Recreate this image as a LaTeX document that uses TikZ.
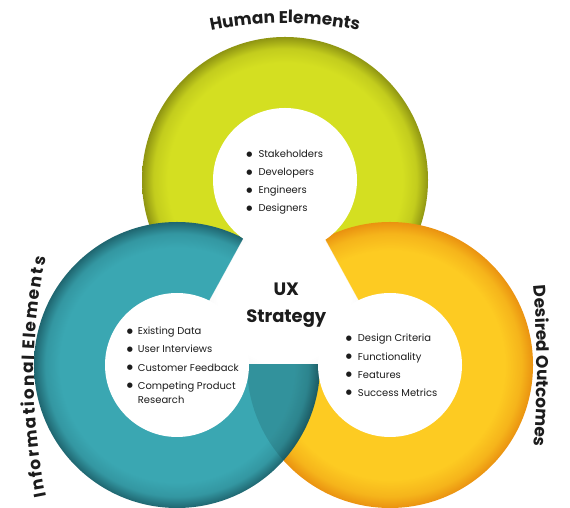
\documentclass[tikz,border=0pt]{standalone}
\usepackage{fontspec}
\setmainfont{Poppins}
\newfontfamily\symfont{DejaVu Sans}
\usetikzlibrary{decorations.text}

\definecolor{gmain}{HTML}{D4DF21}
\definecolor{gdark}{HTML}{8F9512}
\definecolor{tmain}{HTML}{3AA7B2}
\definecolor{tdark}{HTML}{1F6670}
\definecolor{ymain}{HTML}{FDCB22}
\definecolor{ydark}{HTML}{EA9210}
\definecolor{cgray}{HTML}{D4D4D4}
\definecolor{textc}{HTML}{1C1C1C}

\pgfdeclareradialshading{greenring}{\pgfpoint{0bp}{0bp}}{color(0bp)=(gmain); color(20.5bp)=(gmain); color(23bp)=(gmain!75!gdark); color(25bp)=(gdark); color(50bp)=(gdark)}
\pgfdeclareradialshading{tealring}{\pgfpoint{0bp}{0bp}}{color(0bp)=(tmain); color(20.5bp)=(tmain); color(23bp)=(tmain!75!tdark); color(25bp)=(tdark); color(50bp)=(tdark)}
\pgfdeclareradialshading{yellowring}{\pgfpoint{0bp}{0bp}}{color(0bp)=(ymain); color(20bp)=(ymain); color(23bp)=(ymain!60!ydark); color(25bp)=(ydark); color(50bp)=(ydark)}
\pgfdeclareradialshading{centershade}{\pgfpoint{0bp}{0bp}}{color(0bp)=(white); color(12bp)=(white); color(25bp)=(cgray); color(50bp)=(cgray)}

\newcommand\headfont{\fontsize{17}{17}\selectfont\bfseries}
\newcommand\lsp{\kern1.8bp}

\begin{document}
\begin{tikzpicture}[x=1bp,y=1bp,
  item/.style={anchor=base west,inner sep=0pt,text=textc,font=\fontsize{10}{12}\selectfont},
  bul/.style={inner sep=0pt,text=textc,font=\symfont\fontsize{7}{7}\selectfont},
  uxtext/.style={anchor=base,inner sep=0pt,text=textc,font=\fontsize{18}{18}\selectfont\bfseries},
  headtext/.style={decorate,decoration={text along path,text align=center,text color=textc,text={|\headfont|#1}}}
]
\useasboundingbox (0,0) rectangle (570,508);
\coordinate (cT) at (285,328);
\coordinate (cL) at (177,143);
\coordinate (cR) at (390,143);
\coordinate (apx) at (284,343);
\coordinate (lft) at (175,144);
\coordinate (rgt) at (393,144);

% rings
\shade[shading=greenring] (cT) circle[radius=143];
\shade[shading=yellowring] (cR) circle[radius=143];
\shade[shading=tealring] (cL) circle[radius=143];
\begin{scope}
  \clip (cL) circle[radius=143];
  \fill[black,opacity=0.12] (cR) circle[radius=143];
\end{scope}

% center triangle
\begin{scope}
  \clip (apx) -- (lft) -- (rgt) -- cycle;
  \fill[cgray] (apx) -- (lft) -- (rgt) -- cycle;
  \shade[shading=centershade] (284,210) circle[radius=138];
\end{scope}
\draw[white,line width=1bp,opacity=0.6] (lft) -- (apx) -- (rgt);

% inner white circles
\fill[white] (cT) circle[radius=72];
\fill[white] (cL) circle[radius=72];
\fill[white] (cR) circle[radius=72];

% headings
\path[headtext=Human Elements] ([shift={(118:355)}]285,130) arc[start angle=118,end angle=62,radius=355];
\path[headtext={{I\lsp}{n\lsp}{f\lsp}{o\lsp}{r\lsp}{m\lsp}{a\lsp}{t\lsp}{i\lsp}{o\lsp}{n\lsp}{a\lsp}{l\lsp} {E\lsp}{l\lsp}{e\lsp}{m\lsp}{e\lsp}{n\lsp}{t\lsp}{s}}] ([shift={(198:600)}]634,131) arc[start angle=198,end angle=162,radius=600];
\path[headtext=Desired Outcomes] ([shift={(7:900)}]-363,142) arc[start angle=7,end angle=-7,radius=900];

% center label
\node[uxtext] (ux) at (286.3,212) {UX};
\node[uxtext] (strat) at (286.3,185) {Strategy};

% top list
\foreach \t/\yy [count=\i] in {Stakeholders/350,Developers/332,Engineers/314,Designers/296}{
  \node[bul] (tb\i) at (249.3,\yy+3.7) {●};
  \node[item] (ti\i) at (258.3,\yy) {\t};
}
% left list
\foreach \t/\yy [count=\i] in {Existing Data/173,User Interviews/155,Customer Feedback/136.5,Competing Product/118.3}{
  \node[bul] (lb\i) at (130,\yy+3.7) {●};
  \node[item] (li\i) at (137.7,\yy) {\t};
}
\node[item] (li5) at (137.7,104) {Research};
% right list
\foreach \t/\yy [count=\i] in {Design Criteria/166,Functionality/147.7,Features/129.7,Success Metrics/111.3}{
  \node[bul] (rb\i) at (349,\yy+3.7) {●};
  \node[item] (ri\i) at (357.7,\yy) {\t};
}
\end{tikzpicture}
\end{document}
